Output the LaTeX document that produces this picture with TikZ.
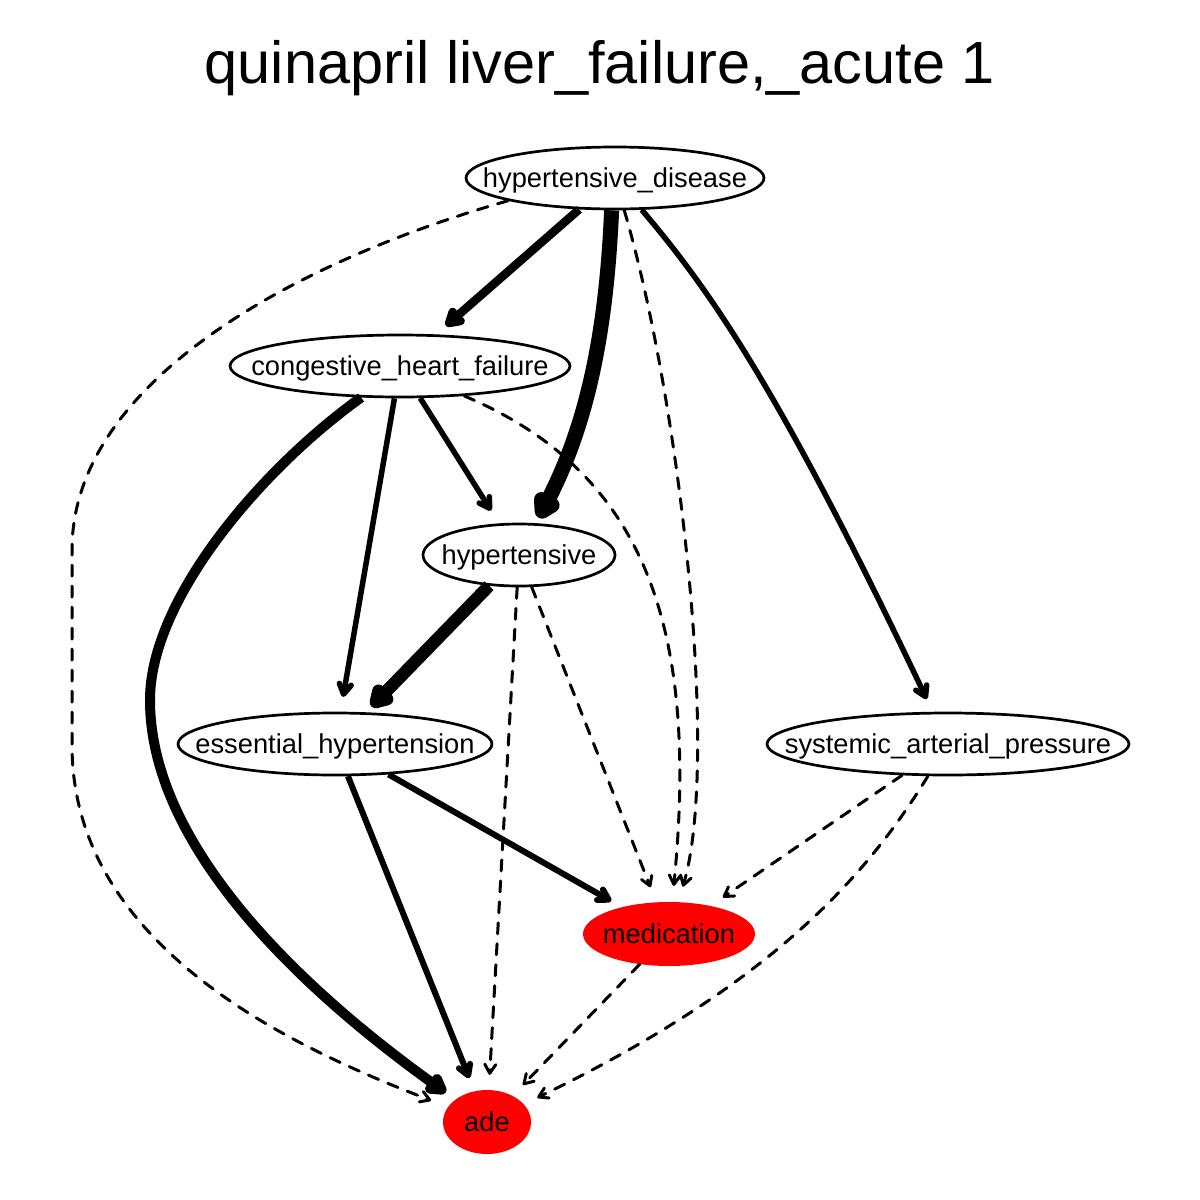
\documentclass[tikz,border=0pt]{standalone}
\usepackage{fontspec}
\setmainfont{Liberation Sans}
\usetikzlibrary{arrows.meta,shapes.geometric}
\begin{document}
\begin{tikzpicture}[x=1pt,y=-1pt,
  nd/.style={ellipse, draw, line width=2.7pt, inner sep=0pt, minimum height=62pt},
  rd/.style={ellipse, fill=red, draw=none, inner sep=0pt, minimum height=64pt},
  lbl/.style={font=\fontsize{27.3}{30}\selectfont, text height=20pt, text depth=2pt, inner sep=0pt},
  e/.style={line width=#1, line cap=butt, -{Straight Barb[length=10pt,width=12pt,round]}},
  dsh/.style={line width=3pt, line cap=round, dash pattern=on 11pt off 10pt, -{Straight Barb[length=9pt,width=11pt,round]}},
]
\useasboundingbox (0,0) rectangle (1200,1200);
\fill[white] (0,0) rectangle (1200,1200);

\node[font=\fontsize{59.5}{70}\selectfont, anchor=base, inner sep=0pt] (title) at (600,83) {quinapril liver\_failure,\_acute 1};

\node[nd, minimum width=298pt, label={[lbl]center:hypertensive\_disease}] (hd) at (615,178) {};
\node[nd, minimum width=340pt, label={[lbl]center:congestive\_heart\_failure}] (chf) at (400,366) {};
\node[nd, minimum width=192pt, label={[lbl]center:hypertensive}] (ht) at (519,555) {};
\node[nd, minimum width=314pt, label={[lbl]center:essential\_hypertension}] (eh) at (335,744) {};
\node[nd, minimum width=362pt, label={[lbl]center:systemic\_arterial\_pressure}] (sap) at (948,744) {};
\node[rd, minimum width=172pt, label={[lbl]center:medication}] (med) at (669,934) {};
\node[rd, minimum width=88pt, label={[lbl]center:ade}] (ade) at (487,1122) {};

% from hypertensive_disease
\draw[e=8.5pt, shorten >=13pt] (hd) -- (chf);
\draw[e=15pt, shorten >=6pt] (hd.-96) .. controls (606,340) and (585,430) .. (ht);
\draw[dsh, shorten >=16pt] (hd.-74) .. controls (680,400) and (720,760) .. (med);
\draw[e=5.5pt, shorten >=14pt] (hd.-50) .. controls (710,290) and (780,390) .. (sap);
\draw[dsh, shorten >=18pt] (hd.-168) .. controls (300,260) and (72,380) .. (72,550) -- (72,745) .. controls (72,950) and (300,1050) .. (ade);

% from congestive_heart_failure
\draw[e=5.5pt, shorten >=15pt] (chf) -- (ht);
\draw[e=5.5pt, shorten >=15pt] (chf) -- (eh);
\draw[e=10pt, shorten >=12pt] (chf.-141) .. controls (260,470) and (150,600) .. (150,700) .. controls (150,860) and (330,1010) .. (ade);
\draw[dsh, shorten >=16pt] (chf.-25) .. controls (640,470) and (700,620) .. (med);

% from hypertensive
\draw[e=12.5pt, shorten >=8pt] (ht) -- (eh);
\draw[dsh, shorten >=15pt] (ht) -- (ade);
\draw[dsh, shorten >=16pt] (ht) -- (med);

% from essential_hypertension
\draw[e=6pt, shorten >=12pt] (eh) -- (med);
\draw[e=6pt, shorten >=14pt] (eh) -- (ade);

% from systemic_arterial_pressure
\draw[dsh, shorten >=15pt] (sap) -- (med);
\draw[dsh, shorten >=15pt] (sap.-122) .. controls (870,870) and (780,980) .. (ade);

% from medication
\draw[dsh, shorten >=15pt] (med) -- (ade);
\end{tikzpicture}
\end{document}
